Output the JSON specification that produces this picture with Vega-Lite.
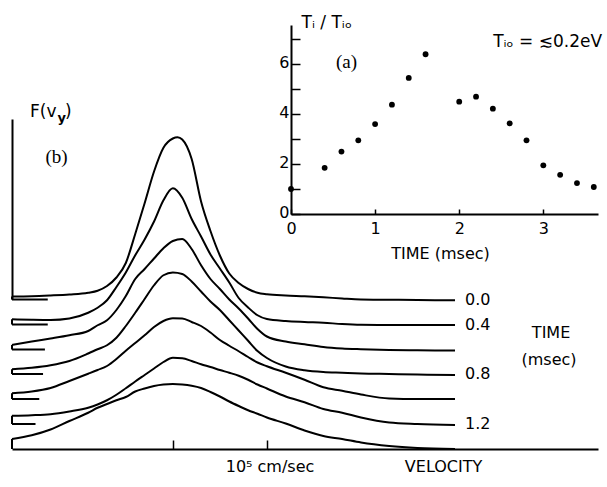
{
  "$schema": "https://vega.github.io/schema/vega-lite/v6.json",
  "width": 607,
  "height": 487,
  "autosize": {"type": "none"},
  "padding": 0,
  "background": "white",
  "config": {
    "view": {"stroke": null},
    "axis": {"domainColor": "black", "tickColor": "black", "labelColor": "black", "titleColor": "black", "labelFont": "DejaVu Sans", "titleFont": "DejaVu Sans", "grid": false, "domainWidth": 2, "tickWidth": 1.5, "labelFlush": false},
    "text": {"font": "DejaVu Sans", "color": "black"}
  },
  "datasets": {
    "curves": [
      {"t":0,"v":-1.71,"F":6.10},{"t":0,"v":-1.5,"F":6.11},{"t":0,"v":-1.3,"F":6.14},{"t":0,"v":-1.1,"F":6.18},{"t":0,"v":-0.9,"F":6.25},{"t":0,"v":-0.8,"F":6.33},{"t":0,"v":-0.7,"F":6.52},{"t":0,"v":-0.6,"F":6.86},{"t":0,"v":-0.5,"F":7.44},{"t":0,"v":-0.4,"F":8.6},{"t":0,"v":-0.3,"F":9.83},{"t":0,"v":-0.2,"F":11.1},{"t":0,"v":-0.1,"F":12.05},{"t":0,"v":0,"F":12.42},{"t":0,"v":0.05,"F":12.47},{"t":0,"v":0.1,"F":12.38},{"t":0,"v":0.2,"F":11.6},{"t":0,"v":0.3,"F":9.9},{"t":0,"v":0.4,"F":8.72},{"t":0,"v":0.5,"F":7.74},{"t":0,"v":0.6,"F":7.02},{"t":0,"v":0.7,"F":6.64},{"t":0,"v":0.8,"F":6.4},{"t":0,"v":0.9,"F":6.25},{"t":0,"v":1.0,"F":6.19},{"t":0,"v":1.2,"F":6.14},{"t":0,"v":1.4,"F":6.11},{"t":0,"v":1.6,"F":6.07},{"t":0,"v":1.8,"F":6.02},{"t":0,"v":2.0,"F":5.98},{"t":0,"v":2.3,"F":5.97},{"t":0,"v":2.6,"F":5.96},{"t":0,"v":3.0,"F":5.95},
      {"t":0.4,"v":-1.71,"F":5.19},{"t":0.4,"v":-1.5,"F":5.17},{"t":0.4,"v":-1.3,"F":5.16},{"t":0.4,"v":-1.1,"F":5.22},{"t":0.4,"v":-0.9,"F":5.45},{"t":0.4,"v":-0.8,"F":5.65},{"t":0.4,"v":-0.7,"F":5.95},{"t":0.4,"v":-0.6,"F":6.48},{"t":0.4,"v":-0.5,"F":7.06},{"t":0.4,"v":-0.4,"F":7.75},{"t":0.4,"v":-0.3,"F":8.38},{"t":0.4,"v":-0.2,"F":9.1},{"t":0.4,"v":-0.1,"F":9.95},{"t":0.4,"v":0,"F":10.43},{"t":0.4,"v":0.1,"F":10.05},{"t":0.4,"v":0.2,"F":9.2},{"t":0.4,"v":0.3,"F":8.5},{"t":0.4,"v":0.4,"F":7.78},{"t":0.4,"v":0.5,"F":7.22},{"t":0.4,"v":0.6,"F":6.66},{"t":0.4,"v":0.7,"F":6.04},{"t":0.4,"v":0.8,"F":5.66},{"t":0.4,"v":0.9,"F":5.35},{"t":0.4,"v":1.0,"F":5.2},{"t":0.4,"v":1.2,"F":5.12},{"t":0.4,"v":1.4,"F":5.08},{"t":0.4,"v":1.6,"F":5.05},{"t":0.4,"v":1.8,"F":5.0},{"t":0.4,"v":2.0,"F":4.97},{"t":0.4,"v":2.3,"F":4.96},{"t":0.4,"v":2.6,"F":4.96},{"t":0.4,"v":3.0,"F":4.96},
      {"t":0.6,"v":-1.71,"F":4.16},{"t":0.6,"v":-1.5,"F":4.3},{"t":0.6,"v":-1.3,"F":4.42},{"t":0.6,"v":-1.1,"F":4.55},{"t":0.6,"v":-0.9,"F":4.72},{"t":0.6,"v":-0.8,"F":4.95},{"t":0.6,"v":-0.7,"F":5.15},{"t":0.6,"v":-0.6,"F":5.56},{"t":0.6,"v":-0.5,"F":6.12},{"t":0.6,"v":-0.4,"F":6.8},{"t":0.6,"v":-0.3,"F":7.2},{"t":0.6,"v":-0.2,"F":7.62},{"t":0.6,"v":-0.1,"F":8.03},{"t":0.6,"v":0,"F":8.32},{"t":0.6,"v":0.1,"F":8.4},{"t":0.6,"v":0.2,"F":8.0},{"t":0.6,"v":0.3,"F":7.35},{"t":0.6,"v":0.4,"F":6.8},{"t":0.6,"v":0.5,"F":6.4},{"t":0.6,"v":0.6,"F":5.98},{"t":0.6,"v":0.7,"F":5.62},{"t":0.6,"v":0.8,"F":5.22},{"t":0.6,"v":0.9,"F":4.8},{"t":0.6,"v":1.0,"F":4.5},{"t":0.6,"v":1.2,"F":4.3},{"t":0.6,"v":1.4,"F":4.19},{"t":0.6,"v":1.6,"F":4.08},{"t":0.6,"v":1.8,"F":4.02},{"t":0.6,"v":2.0,"F":3.99},{"t":0.6,"v":2.3,"F":3.96},{"t":0.6,"v":2.6,"F":3.95},{"t":0.6,"v":3.0,"F":3.94},
      {"t":0.8,"v":-1.71,"F":3.19},{"t":0.8,"v":-1.5,"F":3.25},{"t":0.8,"v":-1.3,"F":3.35},{"t":0.8,"v":-1.1,"F":3.52},{"t":0.8,"v":-0.9,"F":3.82},{"t":0.8,"v":-0.8,"F":3.99},{"t":0.8,"v":-0.7,"F":4.15},{"t":0.8,"v":-0.6,"F":4.45},{"t":0.8,"v":-0.5,"F":4.92},{"t":0.8,"v":-0.4,"F":5.45},{"t":0.8,"v":-0.3,"F":6.0},{"t":0.8,"v":-0.2,"F":6.55},{"t":0.8,"v":-0.1,"F":6.95},{"t":0.8,"v":0,"F":7.06},{"t":0.8,"v":0.1,"F":7.0},{"t":0.8,"v":0.2,"F":6.7},{"t":0.8,"v":0.3,"F":6.3},{"t":0.8,"v":0.4,"F":5.9},{"t":0.8,"v":0.5,"F":5.56},{"t":0.8,"v":0.6,"F":5.15},{"t":0.8,"v":0.7,"F":4.74},{"t":0.8,"v":0.8,"F":4.33},{"t":0.8,"v":0.9,"F":3.92},{"t":0.8,"v":1.0,"F":3.64},{"t":0.8,"v":1.2,"F":3.3},{"t":0.8,"v":1.4,"F":3.15},{"t":0.8,"v":1.6,"F":3.08},{"t":0.8,"v":1.8,"F":3.05},{"t":0.8,"v":2.0,"F":3.02},{"t":0.8,"v":2.3,"F":3.0},{"t":0.8,"v":2.6,"F":2.98},{"t":0.8,"v":3.0,"F":2.96},
      {"t":1.0,"v":-1.71,"F":2.23},{"t":1.0,"v":-1.5,"F":2.3},{"t":1.0,"v":-1.3,"F":2.44},{"t":1.0,"v":-1.1,"F":2.72},{"t":1.0,"v":-0.9,"F":3.01},{"t":1.0,"v":-0.8,"F":3.16},{"t":1.0,"v":-0.7,"F":3.32},{"t":1.0,"v":-0.6,"F":3.6},{"t":1.0,"v":-0.5,"F":3.93},{"t":1.0,"v":-0.4,"F":4.24},{"t":1.0,"v":-0.3,"F":4.55},{"t":1.0,"v":-0.2,"F":4.88},{"t":1.0,"v":-0.1,"F":5.12},{"t":1.0,"v":0,"F":5.23},{"t":1.0,"v":0.1,"F":5.22},{"t":1.0,"v":0.2,"F":5.08},{"t":1.0,"v":0.3,"F":4.92},{"t":1.0,"v":0.4,"F":4.66},{"t":1.0,"v":0.5,"F":4.36},{"t":1.0,"v":0.6,"F":4.13},{"t":1.0,"v":0.7,"F":3.91},{"t":1.0,"v":0.8,"F":3.68},{"t":1.0,"v":0.9,"F":3.46},{"t":1.0,"v":1.0,"F":3.31},{"t":1.0,"v":1.2,"F":3.05},{"t":1.0,"v":1.4,"F":2.77},{"t":1.0,"v":1.6,"F":2.47},{"t":1.0,"v":1.8,"F":2.33},{"t":1.0,"v":2.0,"F":2.18},{"t":1.0,"v":2.3,"F":2.02},{"t":1.0,"v":2.6,"F":2.0},{"t":1.0,"v":3.0,"F":2.0},
      {"t":1.2,"v":-1.71,"F":1.33},{"t":1.2,"v":-1.5,"F":1.35},{"t":1.2,"v":-1.3,"F":1.39},{"t":1.2,"v":-1.1,"F":1.5},{"t":1.2,"v":-0.9,"F":1.65},{"t":1.2,"v":-0.8,"F":1.78},{"t":1.2,"v":-0.7,"F":1.95},{"t":1.2,"v":-0.6,"F":2.17},{"t":1.2,"v":-0.5,"F":2.43},{"t":1.2,"v":-0.4,"F":2.7},{"t":1.2,"v":-0.3,"F":2.96},{"t":1.2,"v":-0.2,"F":3.22},{"t":1.2,"v":-0.1,"F":3.48},{"t":1.2,"v":0,"F":3.65},{"t":1.2,"v":0.1,"F":3.63},{"t":1.2,"v":0.2,"F":3.52},{"t":1.2,"v":0.3,"F":3.39},{"t":1.2,"v":0.4,"F":3.28},{"t":1.2,"v":0.5,"F":3.16},{"t":1.2,"v":0.6,"F":3.05},{"t":1.2,"v":0.7,"F":2.93},{"t":1.2,"v":0.8,"F":2.77},{"t":1.2,"v":0.9,"F":2.58},{"t":1.2,"v":1.0,"F":2.42},{"t":1.2,"v":1.2,"F":2.1},{"t":1.2,"v":1.4,"F":1.87},{"t":1.2,"v":1.6,"F":1.6},{"t":1.2,"v":1.8,"F":1.45},{"t":1.2,"v":2.0,"F":1.26},{"t":1.2,"v":2.3,"F":1.06},{"t":1.2,"v":2.6,"F":1.0},{"t":1.2,"v":3.0,"F":0.96},
      {"t":1.4,"v":-1.71,"F":0.4},{"t":1.4,"v":-1.5,"F":0.55},{"t":1.4,"v":-1.3,"F":0.78},{"t":1.4,"v":-1.1,"F":1.12},{"t":1.4,"v":-0.9,"F":1.45},{"t":1.4,"v":-0.8,"F":1.65},{"t":1.4,"v":-0.7,"F":1.8},{"t":1.4,"v":-0.6,"F":1.95},{"t":1.4,"v":-0.5,"F":2.08},{"t":1.4,"v":-0.4,"F":2.3},{"t":1.4,"v":-0.3,"F":2.42},{"t":1.4,"v":-0.2,"F":2.52},{"t":1.4,"v":-0.1,"F":2.58},{"t":1.4,"v":0,"F":2.6},{"t":1.4,"v":0.1,"F":2.58},{"t":1.4,"v":0.2,"F":2.53},{"t":1.4,"v":0.3,"F":2.44},{"t":1.4,"v":0.4,"F":2.28},{"t":1.4,"v":0.5,"F":2.1},{"t":1.4,"v":0.6,"F":1.9},{"t":1.4,"v":0.7,"F":1.72},{"t":1.4,"v":0.8,"F":1.55},{"t":1.4,"v":0.9,"F":1.41},{"t":1.4,"v":1.0,"F":1.26},{"t":1.4,"v":1.2,"F":1.02},{"t":1.4,"v":1.4,"F":0.74},{"t":1.4,"v":1.6,"F":0.52},{"t":1.4,"v":1.8,"F":0.4},{"t":1.4,"v":2.0,"F":0.26},{"t":1.4,"v":2.3,"F":0.12},{"t":1.4,"v":2.6,"F":0.04},{"t":1.4,"v":3.0,"F":0.0}
    ],
    "zeros": [
      {"t":0,"F0":5.98,"Fs":6.10,"vs":-1.71,"vm":-1.33,"ve":3.0,"label":"0.0"},
      {"t":0.4,"F0":4.98,"Fs":5.19,"vs":-1.71,"vm":-1.33,"ve":3.0,"label":"0.4"},
      {"t":0.6,"F0":3.98,"Fs":4.16,"vs":-1.71,"vm":-1.36,"ve":3.0,"label":""},
      {"t":0.8,"F0":3.0,"Fs":3.19,"vs":-1.71,"vm":-1.38,"ve":3.0,"label":"0.8"},
      {"t":1.0,"F0":2.0,"Fs":2.23,"vs":-1.71,"vm":-1.42,"ve":3.0,"label":""},
      {"t":1.2,"F0":1.0,"Fs":1.33,"vs":-1.71,"vm":-1.46,"ve":3.0,"label":"1.2"},
      {"t":1.4,"F0":0.0,"Fs":0.4,"vs":-1.71,"vm":-1.71,"ve":3.0,"label":""}
    ],
    "mainNotes": [
      {"text":"10⁵ cm/sec","v":1.033,"F":-0.72},
      {"text":"VELOCITY","v":2.878,"F":-0.72},
      {"text":"TIME","v":4.021,"F":4.64},
      {"text":"(msec)","v":3.999,"F":3.56}
    ],
    "flabel": [
      {"text":"F(v","v":-1.518,"F":13.48},
      {"text":")","v":-1.146,"F":13.48}
    ],
    "fsub": [
      {"text":"y","v":-1.226,"F":13.26}
    ],
    "serifMain": [
      {"text":"(b)","v":-1.236,"F":11.68}
    ],
    "inset": [
      {"time":0,"ratio":1.0},{"time":0.4,"ratio":1.85},{"time":0.6,"ratio":2.5},{"time":0.8,"ratio":2.95},{"time":1.0,"ratio":3.6},{"time":1.2,"ratio":4.38},{"time":1.4,"ratio":5.45},{"time":1.6,"ratio":6.4},{"time":2.0,"ratio":4.5},{"time":2.2,"ratio":4.7},{"time":2.4,"ratio":4.22},{"time":2.6,"ratio":3.63},{"time":2.8,"ratio":2.95},{"time":3.0,"ratio":1.95},{"time":3.2,"ratio":1.57},{"time":3.4,"ratio":1.24},{"time":3.6,"ratio":1.08}
    ],
    "insetSerif": [
      {"text":"(a)","time":0.66,"ratio":6.08}
    ],
    "insetNote": [
      {"text":"Tᵢₒ = ≲0.2eV","time":3.698,"ratio":6.88}
    ]
  },
  "layer": [
    {
      "layer": [
        {
          "data": {"name": "curves"},
          "mark": {"type": "line", "color": "black", "strokeWidth": 2, "strokeJoin": "round", "interpolate": "monotone"},
          "encoding": {
            "x": {"field": "v", "type": "quantitative", "scale": {"domain": [-1.71, 4.52], "range": [12, 598], "nice": false, "zero": false},
                  "axis": {"orient": "bottom", "offset": -38, "values": [0, 1], "tickSize": -9, "labels": false, "title": null}},
            "y": {"field": "F", "type": "quantitative", "scale": {"domain": [6, 13.2], "range": [299, 119], "nice": false, "zero": false},
                  "axis": {"orient": "left", "offset": -12, "ticks": false, "labels": false, "title": null}},
            "detail": {"field": "t", "type": "nominal"}
          }
        },
        {
          "data": {"name": "zeros"},
          "mark": {"type": "rule", "color": "black", "strokeWidth": 2},
          "encoding": {
            "x": {"field": "vs", "type": "quantitative"},
            "x2": {"field": "vm"},
            "y": {"field": "F0", "type": "quantitative"}
          }
        },
        {
          "data": {"name": "zeros"},
          "mark": {"type": "rule", "color": "black", "strokeWidth": 2},
          "encoding": {
            "x": {"field": "vs", "type": "quantitative"},
            "y": {"field": "F0", "type": "quantitative"},
            "y2": {"field": "Fs"}
          }
        },
        {
          "data": {"name": "zeros"},
          "mark": {"type": "text", "align": "left", "baseline": "middle", "dx": 10, "fontSize": 16},
          "encoding": {
            "x": {"field": "ve", "type": "quantitative"},
            "y": {"field": "F0", "type": "quantitative"},
            "text": {"field": "label", "type": "nominal"}
          }
        },
        {
          "data": {"name": "mainNotes"},
          "mark": {"type": "text", "align": "center", "baseline": "middle", "fontSize": 16},
          "encoding": {
            "x": {"field": "v", "type": "quantitative"},
            "y": {"field": "F", "type": "quantitative"},
            "text": {"field": "text", "type": "nominal"}
          }
        },
        {
          "data": {"name": "flabel"},
          "mark": {"type": "text", "align": "left", "baseline": "middle", "fontSize": 17},
          "encoding": {
            "x": {"field": "v", "type": "quantitative"},
            "y": {"field": "F", "type": "quantitative"},
            "text": {"field": "text", "type": "nominal"}
          }
        },
        {
          "data": {"name": "fsub"},
          "mark": {"type": "text", "align": "left", "baseline": "middle", "fontSize": 13, "fontWeight": "bold"},
          "encoding": {
            "x": {"field": "v", "type": "quantitative"},
            "y": {"field": "F", "type": "quantitative"},
            "text": {"field": "text", "type": "nominal"}
          }
        },
        {
          "data": {"name": "serifMain"},
          "mark": {"type": "text", "align": "center", "baseline": "middle", "fontSize": 19, "font": "Liberation Serif"},
          "encoding": {
            "x": {"field": "v", "type": "quantitative"},
            "y": {"field": "F", "type": "quantitative"},
            "text": {"field": "text", "type": "nominal"}
          }
        }
      ]
    },
    {
      "layer": [
        {
          "data": {"name": "inset"},
          "mark": {"type": "circle", "color": "black", "opacity": 1, "size": 34},
          "encoding": {
            "x": {"field": "time", "type": "quantitative", "scale": {"domain": [0, 3.65], "range": [291, 598], "nice": false, "zero": false},
                  "axis": {"orient": "bottom", "offset": -273, "values": [0, 1, 2, 3], "format": "d", "tickSize": -5, "labelFontSize": 16, "labelPadding": 11, "title": "TIME (msec)", "titleFontSize": 16, "titleFontWeight": "normal", "titleX": 440, "titleY": 39, "titleBaseline": "middle"}},
            "y": {"field": "ratio", "type": "quantitative", "scale": {"domain": [0, 7.57], "range": [214, 25], "nice": false, "zero": false},
                  "axis": {"orient": "left", "offset": -291, "values": [0, 1, 2, 3, 4, 5, 6, 7], "format": "d", "tickSize": -9, "labelFontSize": 16, "labelPadding": 11, "labelOffset": -2, "labelExpr": "datum.value % 2 === 0 ? datum.label : ''", "title": "Tᵢ / Tᵢₒ", "titleAngle": 0, "titleAlign": "left", "titleBaseline": "middle", "titleX": 10, "titleY": 22, "titleFontSize": 17, "titleFontWeight": "normal"}}
          }
        },
        {
          "data": {"name": "insetSerif"},
          "mark": {"type": "text", "align": "center", "baseline": "middle", "fontSize": 19, "font": "Liberation Serif"},
          "encoding": {
            "x": {"field": "time", "type": "quantitative"},
            "y": {"field": "ratio", "type": "quantitative"},
            "text": {"field": "text", "type": "nominal"}
          }
        },
        {
          "data": {"name": "insetNote"},
          "mark": {"type": "text", "align": "right", "baseline": "middle", "fontSize": 17},
          "encoding": {
            "x": {"field": "time", "type": "quantitative"},
            "y": {"field": "ratio", "type": "quantitative"},
            "text": {"field": "text", "type": "nominal"}
          }
        }
      ]
    }
  ],
  "resolve": {"scale": {"x": "independent", "y": "independent"}, "axis": {"x": "independent", "y": "independent"}}
}
